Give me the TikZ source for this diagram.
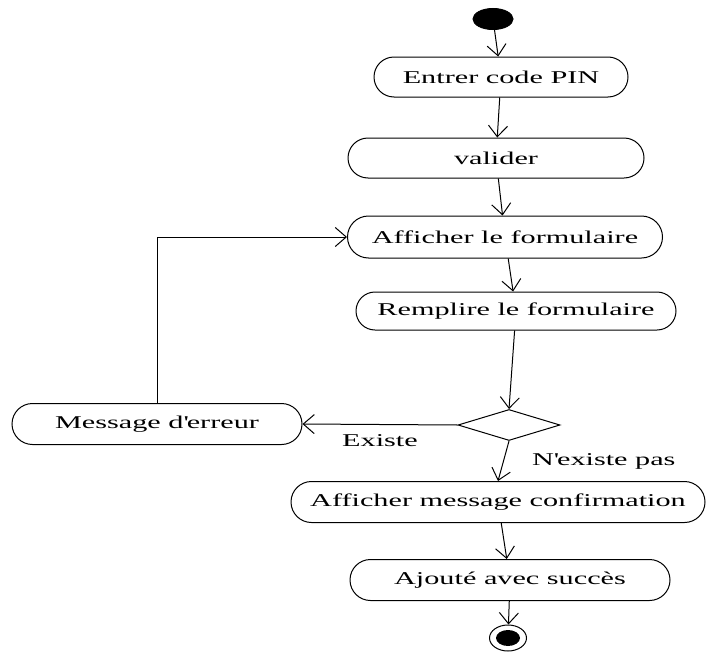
\documentclass[tikz,border=0pt]{standalone}
\usepackage{fontspec}
\setmainfont{Liberation Serif}[FakeStretch=1.68]
\usetikzlibrary{shapes.misc, shapes.geometric, arrows.meta}

\begin{document}
\begin{tikzpicture}[x=1pt, y=-1pt, line width=1pt,
    activity/.style={draw, rounded rectangle, minimum height=40pt, inner sep=0pt, font=\fontsize{18}{20}\selectfont},
    guard/.style={inner sep=0pt, font=\fontsize{18}{20}\selectfont},
    flow/.style={-{Straight Barb[length=11pt,width=19pt]}}]
    \useasboundingbox (0,0) rectangle (707,653);
    \node[draw, fill, ellipse, minimum width=40pt, minimum height=21pt, inner sep=0pt] (start) at (493,19) {};
    \node[activity, minimum width=254pt] (pin) at (501,77) {Entrer code PIN};
    \node[activity, minimum width=296pt] (valider) at (496,158) {valider};
    \node[activity, minimum width=315pt, minimum height=42pt] (afficher) at (505,237) {Afficher le formulaire};
    \node[activity, minimum width=320pt, minimum height=38pt] (remplir) at (516,311) {Remplire le formulaire};
    \node[draw, diamond, minimum width=102pt, minimum height=31pt, inner sep=0pt] (choix) at (509,425) {};
    \node[activity, minimum width=290pt, minimum height=41pt] (erreur) at (157,424) {Message d\textquotesingle erreur};
    \node[activity, minimum width=414pt, minimum height=41pt] (confirm) at (498,502) {Afficher message confirmation};
    \node[activity, minimum width=320pt, minimum height=41pt] (ajoute) at (510,580) {Ajouté avec succès};
    \node[draw, ellipse, minimum width=37pt, minimum height=26pt, inner sep=0pt] (fin) at (508,638) {};
    \node[fill, ellipse, minimum width=24pt, minimum height=16pt, inner sep=0pt] (finpoint) at (fin) {};

    \draw[flow] (start) -- (pin);
    \draw[flow] (pin) -- (valider);
    \draw[flow] (valider) -- (afficher);
    \draw[flow] (afficher) -- (remplir);
    \draw[flow] (remplir) -- (choix.north);
    \draw[flow] (choix.west) -- node[guard, yshift=-16pt] (existe) {Existe} (erreur.east);
    \draw[flow] (choix.south) -- node[guard, anchor=west, xshift=28pt] (nexiste) {N\textquotesingle existe pas} (confirm.north);
    \draw[flow] (erreur.north) |- (afficher.west);
    \draw[flow] (confirm) -- (ajoute);
    \draw[flow] (ajoute) -- (fin);
\end{tikzpicture}
\end{document}
